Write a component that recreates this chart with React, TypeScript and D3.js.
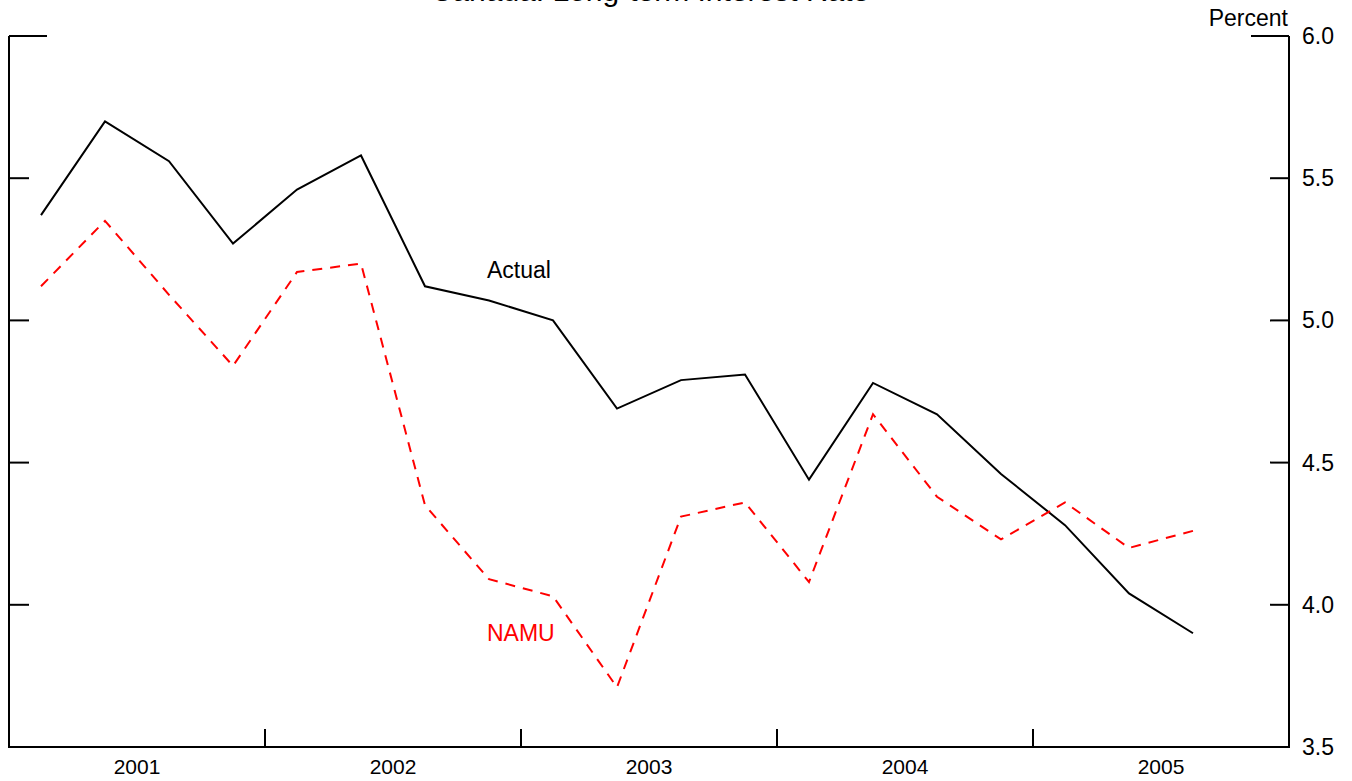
import * as d3 from 'd3';
import React from 'react';

const title = 'Canada: Long-term Interest Rate';
const years = ['2001', '2002', '2003', '2004', '2005'];
const quarters = d3.range(19); // 2001Q1 .. 2005Q3
const actual = [5.37, 5.70, 5.56, 5.27, 5.46, 5.58, 5.12, 5.07, 5.00, 4.69, 4.79, 4.81, 4.44, 4.78, 4.67, 4.46, 4.28, 4.04, 3.90];
const namu = [5.12, 5.35, 5.09, 4.84, 5.17, 5.20, 4.35, 4.09, 4.03, 3.71, 4.31, 4.36, 4.08, 4.67, 4.38, 4.23, 4.36, 4.20, 4.26];
const yTicks = [3.5, 4.0, 4.5, 5.0, 5.5, 6.0];

const W = 1352;
const H = 781;
const left = 9;
const right = 1289;
const top = 36;
const bottom = 747;
const font = 'Liberation Sans, Arial, sans-serif';

const App: React.FC = () => {
  const x = d3.scaleLinear().domain([0, years.length * 4]).range([left, right]);
  const y = d3.scaleLinear().domain([3.5, 6.0]).range([bottom, top]);

  const line = d3.line<number>()
    .x((_, i) => x(quarters[i] + 0.5))
    .y(d => y(d));

  return (
    <svg width={W} height={H} style={{ position: 'absolute', left: 0, top: 0, background: '#fff' }}>
      <text x={650} y={1} textAnchor="middle" fontFamily={font} fontSize={30}>{title}</text>

      {/* frame */}
      <path d={`M${left},${top}V${bottom}H${right}V${top}`} fill="none" stroke="#000" strokeWidth={2} />
      <line x1={left} x2={left + 38} y1={top} y2={top} stroke="#000" strokeWidth={2} />
      <line x1={right - 38} x2={right} y1={top} y2={top} stroke="#000" strokeWidth={2} />

      {yTicks.filter(t => t > 3.5 && t < 6).map(t => (
        <g key={t}>
          <line x1={left} x2={left + 20} y1={y(t)} y2={y(t)} stroke="#000" strokeWidth={2} />
          <line x1={right - 19} x2={right} y1={y(t)} y2={y(t)} stroke="#000" strokeWidth={2} />
        </g>
      ))}
      {yTicks.map(t => (
        <text key={'l' + t} x={1302} y={y(t) + 8} fontFamily={font} fontSize={23}>{t.toFixed(1)}</text>
      ))}
      <text x={1288} y={26} textAnchor="end" fontFamily={font} fontSize={23}>Percent</text>

      {d3.range(1, years.length).map(i => (
        <line key={i} x1={x(i * 4)} x2={x(i * 4)} y1={bottom} y2={bottom - 18} stroke="#000" strokeWidth={2} />
      ))}
      {years.map((yr, i) => (
        <text key={yr} x={x(i * 4 + 2)} y={774} textAnchor="middle" fontFamily={font} fontSize={21}>{yr}</text>
      ))}

      <path d={line(actual) ?? ''} fill="none" stroke="#000" strokeWidth={2} />
      <path d={line(namu) ?? ''} fill="none" stroke="#ff0000" strokeWidth={2} strokeDasharray="10,8" />

      <text x={487} y={278} fontFamily={font} fontSize={23} fill="#000">Actual</text>
      <text x={487} y={641} fontFamily={font} fontSize={23} fill="#ff0000">NAMU</text>
    </svg>
  );
};

export default App;
